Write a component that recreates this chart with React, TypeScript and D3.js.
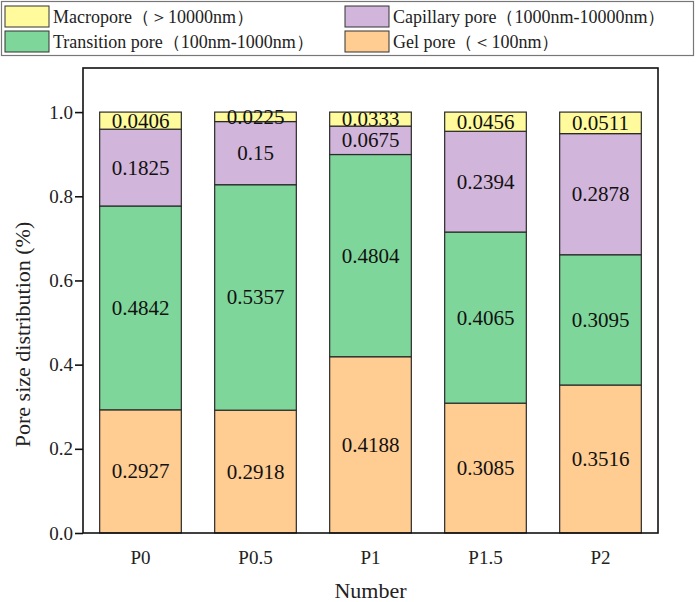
import { useEffect, useRef } from "react";
import * as d3 from "d3";

const categories = ["P0", "P0.5", "P1", "P1.5", "P2"];
const gelPore = [0.2927, 0.2918, 0.4188, 0.3085, 0.3516];
const transitionPore = [0.4842, 0.5357, 0.4804, 0.4065, 0.3095];
const capillaryPore = [0.1825, 0.15, 0.0675, 0.2394, 0.2878];
const macropore = [0.0406, 0.0225, 0.0333, 0.0456, 0.0511];
const yTicks = [0, 0.2, 0.4, 0.6, 0.8, 1.0];

const seriesNames = [
  "Gel pore（＜100nm）",
  "Transition pore（100nm-1000nm）",
  "Capillary pore（1000nm-10000nm）",
  "Macropore（＞10000nm）",
];
const seriesColors = ["#FFCC91", "#7FD69A", "#D1B5DA", "#FFFB9C"];

const W = 699;
const H = 602;
const FONT = "'Liberation Serif', 'Times New Roman', serif";

const App = () => {
  const svgRef = useRef<SVGSVGElement>(null);

  useEffect(() => {
    if (!svgRef.current) return;
    const svg = d3.select(svgRef.current);
    svg.selectAll("*").remove();

    const left = 83, right = 658, top = 68, bottom = 533;

    const x = d3.scaleBand<string>().domain(categories).range([left, right]).paddingInner(0.29).paddingOuter(0.145);
    const y = d3.scaleLinear().domain([0, 1.1]).range([bottom, top + 2]);

    const rows = categories.map((c, i) => ({
      cat: c,
      s0: gelPore[i],
      s1: transitionPore[i],
      s2: capillaryPore[i],
      s3: macropore[i],
    }));
    const stack = d3.stack<any>().keys(["s0", "s1", "s2", "s3"]);
    const layers = stack(rows);

    // bars
    layers.forEach((layer, li) => {
      const g = svg.append("g");
      g.selectAll("rect")
        .data(layer)
        .enter()
        .append("rect")
        .attr("x", (d: any) => x(d.data.cat)!)
        .attr("y", (d: any) => y(d[1]))
        .attr("width", x.bandwidth())
        .attr("height", (d: any) => y(d[0]) - y(d[1]))
        .attr("fill", seriesColors[li])
        .attr("stroke", "#2b2b2b")
        .attr("stroke-width", 1.2);
    });

    // value labels
    layers.forEach((layer) => {
      svg.append("g")
        .selectAll("text")
        .data(layer)
        .enter()
        .append("text")
        .attr("x", (d: any) => x(d.data.cat)! + x.bandwidth() / 2)
        .attr("y", (d: any) => y((d[0] + d[1]) / 2))
        .attr("text-anchor", "middle")
        .attr("dominant-baseline", "central")
        .attr("font-family", FONT)
        .attr("font-size", 21)
        .attr("fill", "#111")
        .text((d: any) => String(+(d[1] - d[0]).toFixed(4)));
    });

    // frame
    svg.append("rect")
      .attr("x", left)
      .attr("y", top)
      .attr("width", right - left)
      .attr("height", bottom - top)
      .attr("fill", "none")
      .attr("stroke", "#111")
      .attr("stroke-width", 1.6);

    // y axis
    const yAxis = svg.append("g")
      .attr("transform", `translate(${left},0)`)
      .call(d3.axisLeft(y).tickValues(yTicks).tickSize(8).tickFormat(d3.format(".1f")));
    yAxis.select(".domain").remove();
    yAxis.selectAll("line").attr("stroke", "#111").attr("stroke-width", 1.6);
    yAxis.selectAll("text")
      .attr("font-family", FONT)
      .attr("font-size", 19)
      .attr("fill", "#222")
      .attr("x", -10);

    // x axis labels
    svg.append("g")
      .selectAll("text")
      .data(categories)
      .enter()
      .append("text")
      .attr("x", (d) => x(d)! + x.bandwidth() / 2)
      .attr("y", 557)
      .attr("text-anchor", "middle")
      .attr("dominant-baseline", "central")
      .attr("font-family", FONT)
      .attr("font-size", 19)
      .attr("fill", "#222")
      .text((d) => d);

    // axis titles
    svg.append("text")
      .attr("x", (left + right) / 2)
      .attr("y", 590)
      .attr("text-anchor", "middle")
      .attr("dominant-baseline", "central")
      .attr("font-family", FONT)
      .attr("font-size", 22)
      .attr("fill", "#222")
      .text("Number");

    svg.append("text")
      .attr("transform", `translate(22,${(top + bottom) / 2 + 34}) rotate(-90)`)
      .attr("text-anchor", "middle")
      .attr("dominant-baseline", "central")
      .attr("font-family", FONT)
      .attr("font-size", 22)
      .attr("fill", "#222")
      .text("Pore size distribution (%)");

    // legend
    const legend = svg.append("g");
    legend.append("rect")
      .attr("x", 1.5)
      .attr("y", 1.5)
      .attr("width", 692)
      .attr("height", 54)
      .attr("fill", "#fff")
      .attr("stroke", "#777")
      .attr("stroke-width", 1.2);

    const legendItems = [
      { idx: 3, col: 0, row: 0 },
      { idx: 2, col: 1, row: 0 },
      { idx: 1, col: 0, row: 1 },
      { idx: 0, col: 1, row: 1 },
    ];
    const colX = [5, 345];
    legendItems.forEach((it) => {
      const lx = colX[it.col];
      const ly = 6 + it.row * 25;
      legend.append("rect")
        .attr("x", lx)
        .attr("y", ly)
        .attr("width", 44)
        .attr("height", 21)
        .attr("fill", seriesColors[it.idx])
        .attr("stroke", "#333")
        .attr("stroke-width", 1);
      legend.append("text")
        .attr("x", lx + 48)
        .attr("y", ly + 11)
        .attr("dominant-baseline", "central")
        .attr("font-family", FONT)
        .attr("font-size", 18)
        .attr("fill", "#222")
        .text(seriesNames[it.idx]);
    });
  }, []);

  return (
    <svg
      ref={svgRef}
      width={W}
      height={H}
      style={{ position: "absolute", left: 0, top: 0, display: "block", background: "#fff" }}
    />
  );
};

export default App;
